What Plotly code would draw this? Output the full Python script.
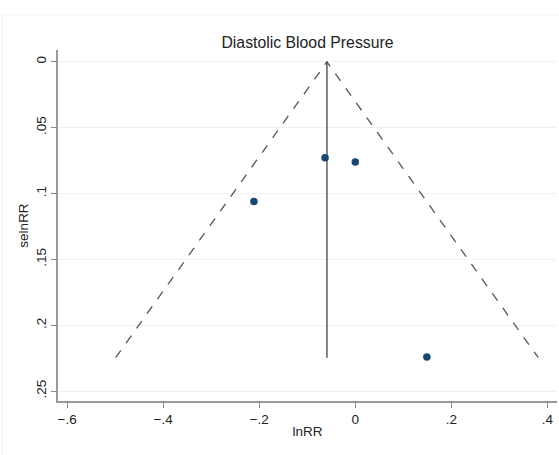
import plotly.graph_objects as go

# Study estimates
lnRR = [-0.063, 0.0, -0.211, 0.149]
selnRR = [0.0728, 0.076, 0.106, 0.224]

# Pooled estimate and max standard error for the funnel
pooled = -0.059
se_max = 0.2245
z = 1.96

x_ticks = [-0.6, -0.4, -0.2, 0, 0.2, 0.4]
x_tick_text = ["\u2212.6", "\u2212.4", "\u2212.2", "0", ".2", ".4"]
y_ticks = [0, 0.05, 0.1, 0.15, 0.2, 0.25]
y_tick_text = ["0", ".05", ".1", ".15", ".2", ".25"]

fig = go.Figure()

# funnel (pseudo 95% CI)
fig.add_trace(go.Scatter(
    x=[pooled - z * se_max, pooled, pooled + z * se_max],
    y=[se_max, 0, se_max],
    mode="lines",
    line=dict(color="#555555", width=1.3, dash="dash"),
    hoverinfo="skip", showlegend=False))

# pooled line
fig.add_trace(go.Scatter(
    x=[pooled, pooled], y=[0, se_max],
    mode="lines",
    line=dict(color="#444444", width=1.3),
    hoverinfo="skip", showlegend=False))

fig.add_trace(go.Scatter(
    x=lnRR, y=selnRR, mode="markers",
    marker=dict(color="#1a476f", size=7.5),
    showlegend=False))

font = "Liberation Sans, Arial, Helvetica, sans-serif"
border = "#eef4f5"

fig.update_layout(
    width=559, height=455,
    margin=dict(l=58, r=2, t=50, b=54, autoexpand=False),
    paper_bgcolor="white",
    plot_bgcolor="white",
    font=dict(family=font, size=13, color="#222222"),
    title=dict(text="Diastolic Blood Pressure", x=0.5, xref="paper", xanchor="center",
               y=0.907, yanchor="middle",
               font=dict(family=font, size=15.8, color="#222222")),
    xaxis=dict(
        range=[-0.619, 0.42], automargin=False,
        tickvals=x_ticks, ticktext=x_tick_text,
        ticks="outside", ticklen=5, tickcolor="#888888",
        showline=True, linecolor="#999999", linewidth=1.5,
        showgrid=False, zeroline=False,
        title=dict(text="lnRR", standoff=1, font=dict(size=13.5)),
        tickfont=dict(size=13.5),
    ),
    yaxis=dict(
        range=[0.2574, -0.009], automargin=False,
        tickvals=y_ticks, ticktext=y_tick_text,
        ticks="outside", ticklen=5, tickcolor="#888888",
        tickangle=-90,
        showline=True, linecolor="#999999", linewidth=1.5,
        showgrid=True, gridcolor="#eaf2f3", gridwidth=1,
        zeroline=False,
        title=dict(text="selnRR", standoff=2, font=dict(size=13.5)),
        tickfont=dict(size=13.5),
    ),
    shapes=[
        dict(type="line", xref="paper", yref="paper",
             x0=-0.112, x1=1.003, y0=1.0997, y1=1.0997,
             line=dict(color=border, width=1), layer="below"),
        dict(type="line", xref="paper", yref="paper",
             x0=-0.112, x1=-0.112, y0=-0.16, y1=1.0997,
             line=dict(color=border, width=1), layer="below"),
    ],
)

fig.write_html(
    "out.html", config={"displayModeBar": False},
    post_script=("document.body.style.margin='0';"
                 "document.body.style.overflow='hidden';"
                 "document.documentElement.style.overflow='hidden';"))
